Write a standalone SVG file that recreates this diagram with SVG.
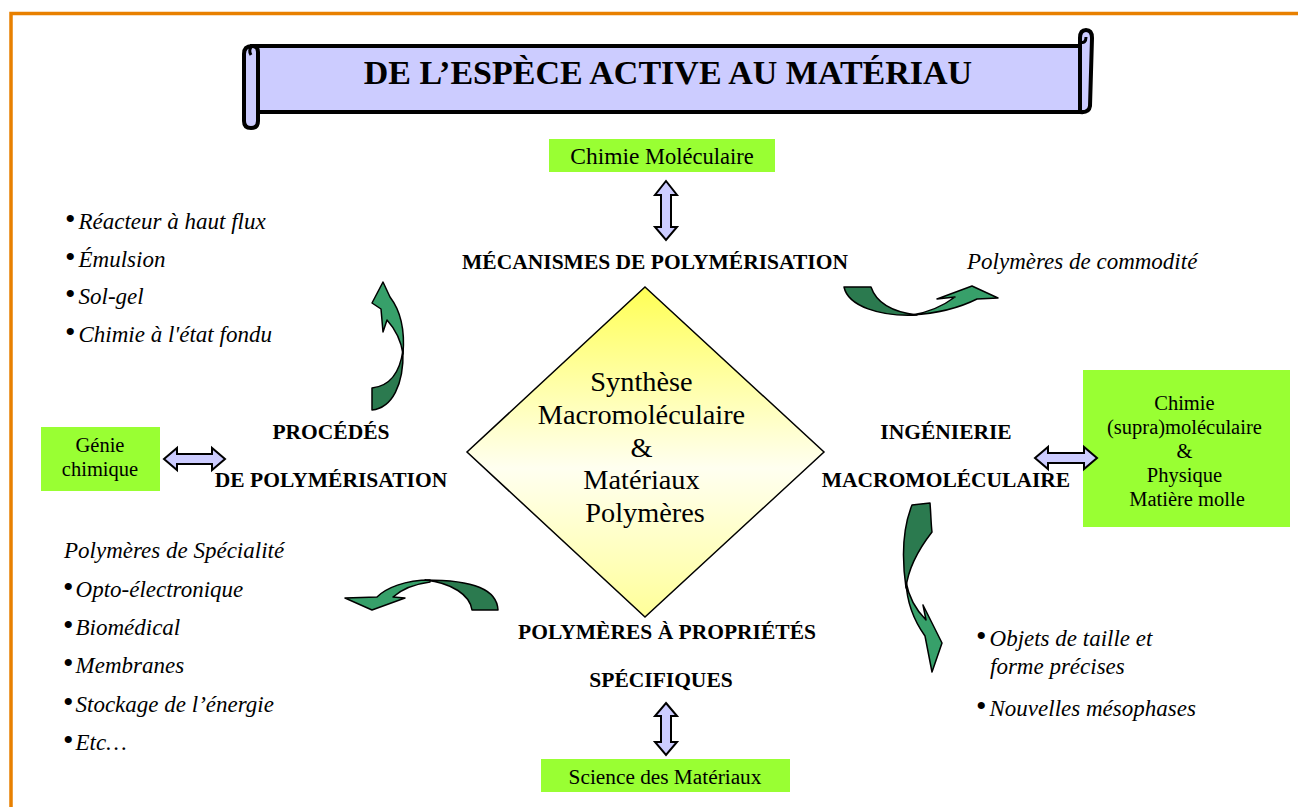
<svg xmlns="http://www.w3.org/2000/svg" width="1298" height="807" viewBox="0 0 1298 807">
<defs>
<linearGradient id="dia" x1="0" y1="0" x2="0" y2="1">
<stop offset="0" stop-color="#ffff55"/>
<stop offset="0.55" stop-color="#fffff0"/>
<stop offset="1" stop-color="#ffff99"/>
</linearGradient>
</defs>
<style>
.t{font-family:"Liberation Serif","Times New Roman",serif;fill:#000}
.b{font-weight:bold;font-size:21.5px}
.i{font-style:italic;font-size:23px}
.n{font-style:normal;font-size:30px}
.g{fill:#99ff33}
.dbl{fill:#ccccff;stroke:#000;stroke-width:2;stroke-linejoin:miter}
.dk{fill:#2b7a4f;stroke:#000;stroke-width:1.5;stroke-linejoin:round}
.lt{fill:#37a06a;stroke:#000;stroke-width:1.5;stroke-linejoin:round}
</style>
<rect width="1298" height="807" fill="#fff"/>
<path d="M11,807 V13.5 H1298" fill="none" stroke="#e88000" stroke-width="3.5"/>

<g id="title">
<path d="M252,46 H1080 V112 H252 Z" fill="#ccccff" stroke="#000" stroke-width="4"/>
<path d="M1080,112 V38 Q1080,30 1086,30 Q1092,30 1092,38 L1090,106 Q1089,113 1080,112 Z" fill="#ccccff" stroke="#000" stroke-width="4"/>
<path d="M1080,42 Q1086,44 1086,37" fill="none" stroke="#000" stroke-width="3"/>
<path d="M252,46 Q244,46 244,54 V121 Q244,128 251,128 Q258,128 258,121 V52 Q258,46 252,46 Z" fill="#ccccff" stroke="#000" stroke-width="4"/>
<path d="M252,46 Q248,50 251,55" fill="none" stroke="#000" stroke-width="3"/>
<text class="t" x="668" y="84" text-anchor="middle" font-weight="bold" font-size="34">DE L’ESPÈCE ACTIVE AU MATÉRIAU</text>
</g>

<g id="center">
<polygon points="645,287 824,452 645,617 467,452" fill="url(#dia)" stroke="#000" stroke-width="1.5"/>
<text class="t" font-size="28.3" text-anchor="middle">
<tspan x="645" y="391">Synthèse</tspan>
<tspan x="645" y="424">Macromoléculaire</tspan>
<tspan x="645" y="457">&amp;</tspan>
<tspan x="645" y="489">Matériaux</tspan>
<tspan x="645" y="522">Polymères</tspan>
</text>
</g>

<g id="chimie-moleculaire">
<rect class="g" x="549" y="139" width="226" height="33"/>
<text class="t" x="662" y="164" text-anchor="middle" font-size="22.5"><tspan font-size="23.5">Chimie</tspan> Moléculaire</text>
</g>

<g id="genie-chimique">
<rect class="g" x="41" y="427" width="119" height="64"/>
<text class="t" text-anchor="middle" font-size="20.5"><tspan x="100" y="452">Génie</tspan><tspan x="100" y="476">chimique</tspan></text>
</g>

<g id="chimie-supra">
<rect class="g" x="1083" y="370" width="207" height="157"/>
<text class="t" text-anchor="middle" font-size="20.5">
<tspan x="1187" y="410">Chimie</tspan>
<tspan x="1187" y="434">(supra)moléculaire</tspan>
<tspan x="1187" y="458">&amp;</tspan>
<tspan x="1187" y="482">Physique</tspan>
<tspan x="1187" y="506">Matière molle</tspan>
</text>
</g>

<g id="science-materiaux">
<rect class="g" x="541" y="759" width="249" height="33"/>
<text class="t" x="665" y="784" text-anchor="middle" font-size="21.3">Science des Matériaux</text>
</g>

<g id="mecanismes"><text class="t b" x="655" y="269" text-anchor="middle">MÉCANISMES DE POLYMÉRISATION</text></g>
<g id="procedes"><text class="t b" text-anchor="middle"><tspan x="331" y="439">PROCÉDÉS</tspan><tspan x="331" y="487">DE POLYMÉRISATION</tspan></text></g>
<g id="ingenierie"><text class="t b" text-anchor="middle"><tspan x="946" y="439">INGÉNIERIE</tspan><tspan x="946" y="487">MACROMOLÉCULAIRE</tspan></text></g>
<g id="proprietes"><text class="t b" text-anchor="middle"><tspan x="667" y="639">POLYMÈRES À PROPRIÉTÉS</tspan><tspan x="661" y="687">SPÉCIFIQUES</tspan></text></g>

<g id="list-procedes">
<text class="t i" x="65" y="229"><tspan class="n">•</tspan><tspan dx="3">Réacteur à haut flux</tspan></text>
<text class="t i" x="65" y="267"><tspan class="n">•</tspan><tspan dx="3">Émulsion</tspan></text>
<text class="t i" x="65" y="304"><tspan class="n">•</tspan><tspan dx="3">Sol-gel</tspan></text>
<text class="t i" x="65" y="342"><tspan class="n">•</tspan><tspan dx="3">Chimie à l'état fondu</tspan></text>
</g>
<g id="commodite"><text class="t i" x="967" y="269">Polymères de commodité</text></g>
<g id="list-specialite">
<text class="t i" x="64" y="558">Polymères de Spécialité</text>
<text class="t i" x="63" y="597"><tspan class="n">•</tspan><tspan dx="2">Opto-électronique</tspan></text>
<text class="t i" x="63" y="635"><tspan class="n">•</tspan><tspan dx="2">Biomédical</tspan></text>
<text class="t i" x="63" y="673"><tspan class="n">•</tspan><tspan dx="2">Membranes</tspan></text>
<text class="t i" x="63" y="712"><tspan class="n">•</tspan><tspan dx="2">Stockage de l’énergie</tspan></text>
<text class="t i" x="63" y="750"><tspan class="n">•</tspan><tspan dx="2">Etc…</tspan></text>
</g>
<g id="list-ingenierie">
<text class="t i" x="976" y="646"><tspan class="n">•</tspan><tspan dx="3">Objets de taille et</tspan></text>
<text class="t i" x="990" y="674">forme précises</text>
<text class="t i" x="976" y="716"><tspan class="n">•</tspan><tspan dx="3">Nouvelles mésophases</tspan></text>
</g>

<g id="connectors">
<polygon class="dbl" points="666,181 677,195 671,195 671,227 677,227 666,240 655,227 661,227 661,195 655,195"/>
<polygon class="dbl" points="666,703 677,716 671,716 671,742 677,742 666,755 655,742 661,742 661,716 655,716"/>
<polygon class="dbl" points="164,459 177,448 177,454 212,454 212,448 225,459 212,470 212,464 177,464 177,470"/>
<polygon class="dbl" points="1035,458 1048,447 1048,453 1084,453 1084,447 1097,458 1084,469 1084,463 1048,463 1048,469"/>

<path class="dk" d="M844,287 L871,287 C876,302 892,312 917,315 C880,317 848,306 844,287 Z"/>
<path class="lt" d="M912,315 C945,313 965,305 977,299 L998,298 L972,286 L937,299 L955,297 C943,306 930,312 912,315 Z"/>

<path class="dk" d="M372,388 L372,410 C392,408 404,385 403,350 C400,372 390,386 372,388 Z"/>
<path class="lt" d="M403,354 C405,330 400,310 390,297 L383,282 L372,303 L381,309 L383,332 L387,320 C396,330 401,340 403,354 Z"/>

<path class="dk" d="M498,610 C497,590 475,580 425,580 C452,583 470,595 472,610 Z"/>
<path class="lt" d="M430,580 C405,580 386,588 377,597 L345,598 L372,610 L405,598 L393,597 C402,589 415,584 430,582 Z"/>

<path class="dk" d="M912,505 L930,503 C931,515 931,525 932,532 C918,550 908,570 906,588 C902,560 902,530 912,505 Z"/>
<path class="lt" d="M906,582 C907,605 915,622 925,636 L932,672 L942,643 L923,605 L926,620 C916,610 909,598 906,582 Z"/>
</g>
</svg>
